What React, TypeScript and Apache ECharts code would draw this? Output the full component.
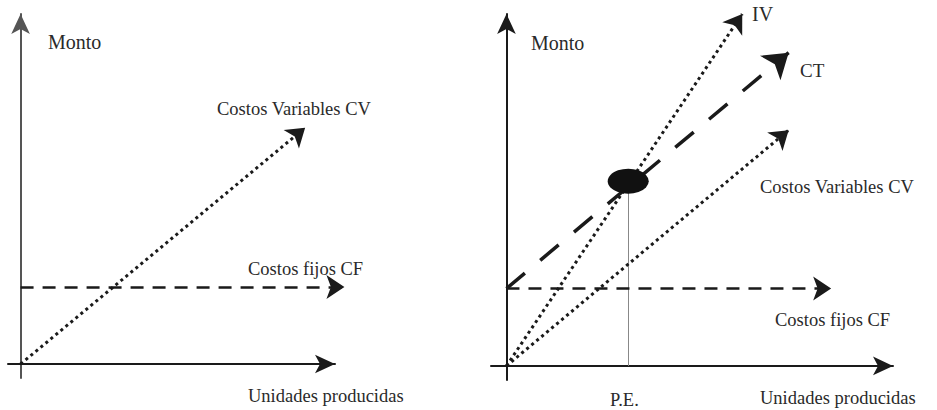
import React, { useEffect, useRef } from "react";
import * as echarts from "echarts";

// ---- Data (abstract units: x = unidades, y = monto) ----
// Left panel
const leftCF: number[][] = [[0, 22], [103, 22]];
const leftCV: number[][] = [[0, 0], [90.5, 67.5]];
// Right panel
const rightCF: number[][] = [[0, 22], [84, 22]];
const rightCV: number[][] = [[0, 0], [73, 67]];
const rightCT: number[][] = [[0, 22], [73, 89]];
const rightIV: number[][] = [[0, 0], [61, 100]];
const breakEven: number[] = [31.5, 52.5];
const breakEvenBase: number[] = [31.5, 0];

const FONT = "'Liberation Serif', 'DejaVu Serif', serif";
const TXT = "#2a2a2a";

function axis(grid: number, color: string) {
  return {
    type: "value",
    gridIndex: grid,
    min: -4,
    max: 100,
    axisLine: {
      show: true,
      onZero: true,
      symbol: ["none", "arrow"],
      symbolSize: [14, 20],
      lineStyle: { color, width: 2 },
    },
    axisTick: { show: false },
    axisLabel: { show: false },
    splitLine: { show: false },
  };
}

function arrowLine(
  idx: number,
  coords: number[][],
  dash: number[],
  width: number,
  size: number
) {
  return {
    type: "lines",
    coordinateSystem: "cartesian2d",
    xAxisIndex: idx,
    yAxisIndex: idx,
    clip: false,
    silent: true,
    symbol: ["none", "arrow"],
    symbolSize: size,
    lineStyle: { color: "#1a1a1a", width, type: dash, opacity: 1, curveness: 0 },
    itemStyle: { color: "#1a1a1a" },
    data: [{ coords }],
    z: 3,
  };
}

function label(text: string, x: number, y: number, size = 18.5) {
  return {
    type: "text",
    x,
    y,
    style: {
      text,
      fill: TXT,
      font: `${size}px ${FONT}`,
      textAlign: "left",
      textVerticalAlign: "middle",
    },
  };
}

export default function App() {
  const ref = useRef<HTMLDivElement>(null);
  useEffect(() => {
    if (!ref.current) return;
    const chart = echarts.init(ref.current, null, { renderer: "svg" });
    chart.setOption({
      animation: false,
      backgroundColor: "#fff",
      grid: [
        { left: 8, right: 937 - 335, top: 14, bottom: 410 - 378 },
        { left: 491, right: 937 - 893, top: 14, bottom: 410 - 380 },
      ],
      xAxis: [axis(0, "#1a1a1a"), axis(1, "#1a1a1a")],
      yAxis: [axis(0, "#555"), axis(1, "#1a1a1a")],
      series: [
        arrowLine(0, leftCF, [13, 9], 2.5, 18),
        arrowLine(0, leftCV, [3, 3.5], 3, 18),
        arrowLine(1, rightCF, [13, 9], 2.5, 18),
        arrowLine(1, rightCV, [3, 3.5], 3, 18),
        arrowLine(1, rightIV, [3, 3.5], 3, 18),
        arrowLine(1, rightCT, [24, 20], 3.5, 24),
        {
          type: "lines",
          coordinateSystem: "cartesian2d",
          xAxisIndex: 1,
          yAxisIndex: 1,
          silent: true,
          lineStyle: { color: "#888", width: 1, opacity: 1, type: "solid" },
          data: [{ coords: [breakEven, breakEvenBase] }],
          z: 2,
        },
        {
          type: "scatter",
          xAxisIndex: 1,
          yAxisIndex: 1,
          silent: true,
          symbol: "circle",
          symbolSize: [41, 25],
          itemStyle: { color: "#111", opacity: 1 },
          data: [breakEven],
          z: 5,
        },
      ],
      graphic: [
        label("Monto", 48, 42, 20),
        label("Costos Variables CV", 217, 109),
        label("Costos fijos CF", 248, 269),
        label("Unidades producidas", 248, 396),
        label("Monto", 531, 43, 20),
        label("IV", 752, 14, 20),
        label("CT", 800, 70, 19),
        label("Costos Variables CV", 760, 187),
        label("Costos fijos CF", 775, 320),
        label("P.E.", 610, 400),
        label("Unidades producidas", 760, 398),
      ],
    });
    return () => chart.dispose();
  }, []);
  return (
    <div
      ref={ref}
      style={{ position: "fixed", left: 0, top: 0, width: 937, height: 410 }}
    />
  );
}
